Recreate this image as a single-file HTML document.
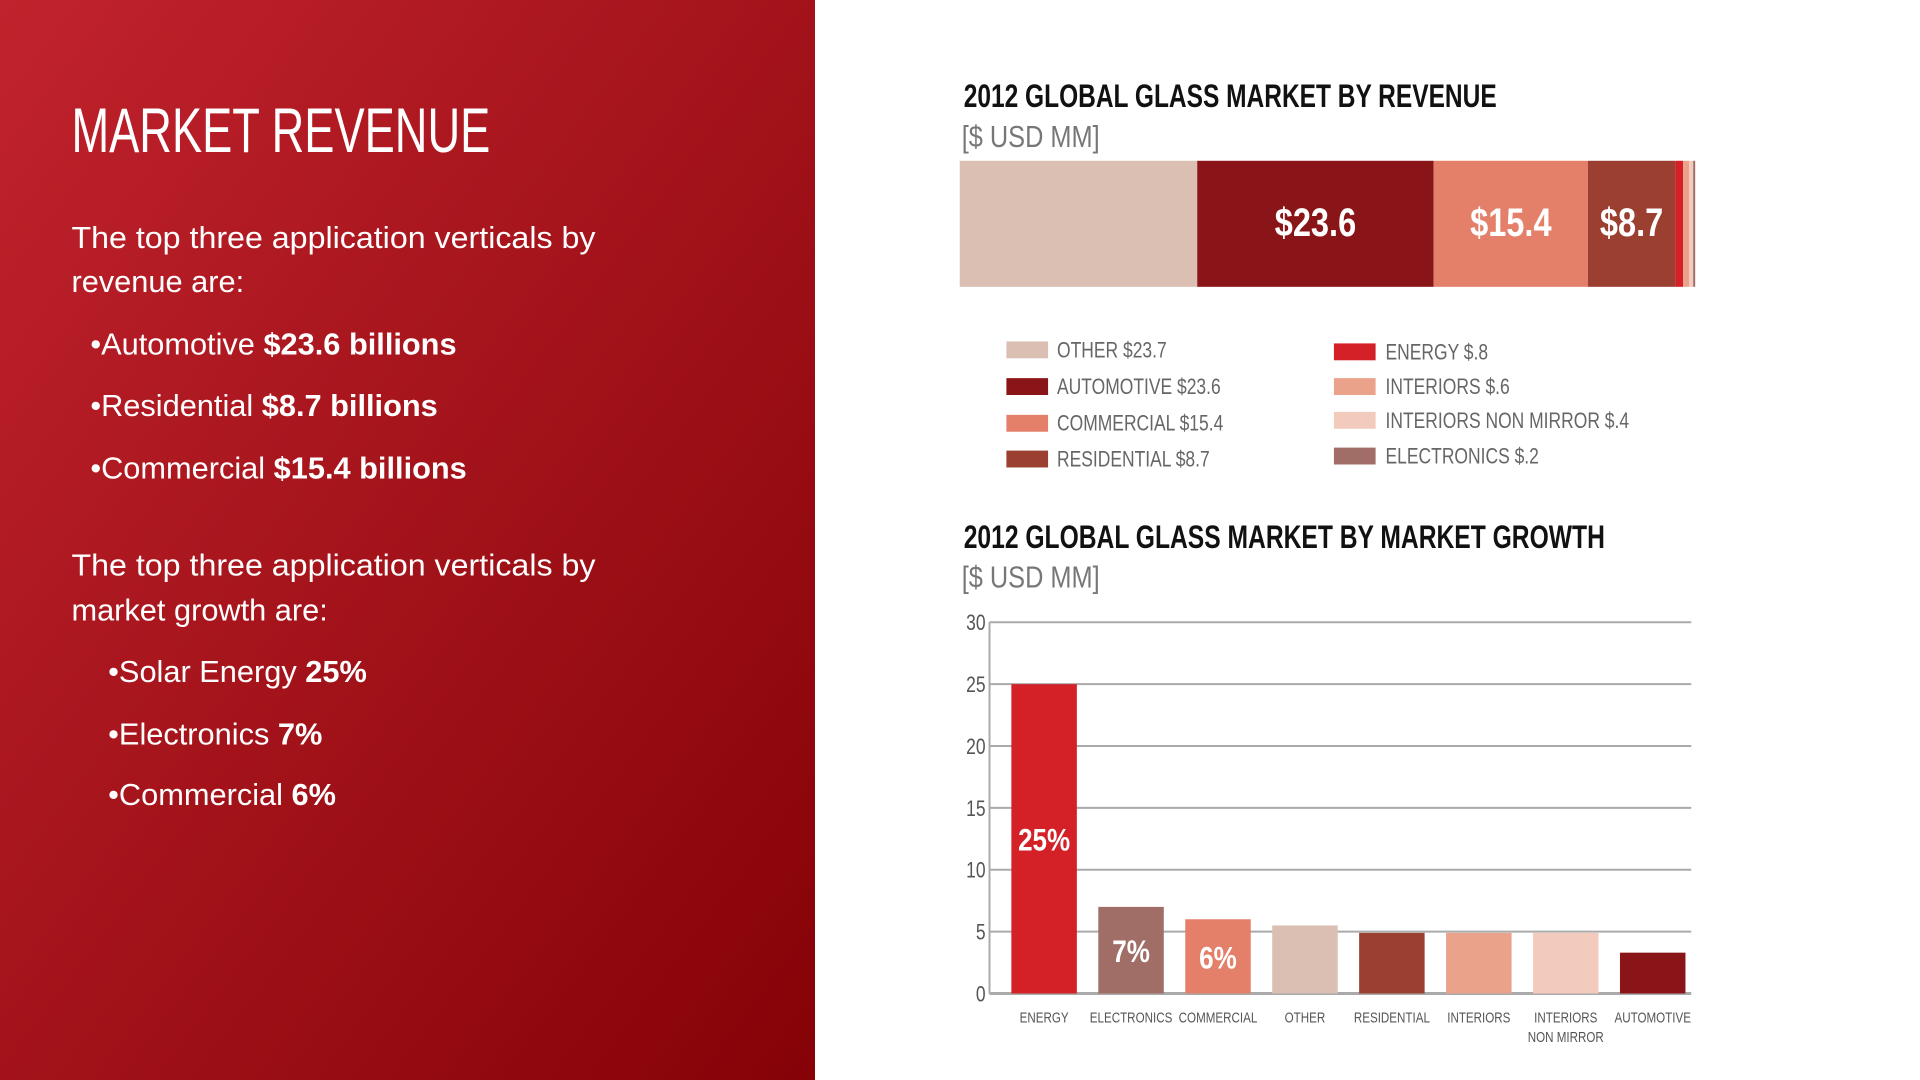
<!DOCTYPE html>
<html><head><meta charset="utf-8"><style>
html,body{margin:0;padding:0;width:1920px;height:1080px;overflow:hidden;background:#fff}
svg{display:block}
.n{font-family:"Liberation Sans Narrow","Liberation Sans",sans-serif}
.s{font-family:"Liberation Sans",sans-serif}
</style></head><body>
<svg id="page" width="1920" height="1080" viewBox="0 0 1920 1080">
<defs><linearGradient id="bg" x1="0" y1="0" x2="1" y2="1"><stop offset="0" stop-color="#c1232d"/><stop offset="1" stop-color="#850207"/></linearGradient></defs>
<rect x="0" y="0" width="815" height="1080" fill="url(#bg)"/>
<g transform="scale(0.9925)">
<g fill="#fff" class="s" font-size="31">
<text x="72" y="153" class="n" font-size="64" textLength="422" lengthAdjust="spacingAndGlyphs">MARKET REVENUE</text>
<text x="72" y="250" textLength="528" lengthAdjust="spacingAndGlyphs">The top three application verticals by</text>
<text x="72" y="294">revenue are:</text>
<text x="91" y="357">•Automotive <tspan font-weight="bold">$23.6 billions</tspan></text>
<text x="91" y="419">•Residential <tspan font-weight="bold">$8.7 billions</tspan></text>
<text x="91" y="482">•Commercial <tspan font-weight="bold">$15.4 billions</tspan></text>
<text x="72" y="580" textLength="528" lengthAdjust="spacingAndGlyphs">The top three application verticals by</text>
<text x="72" y="625">market growth are:</text>
<text x="109" y="687">•Solar Energy <tspan font-weight="bold">25%</tspan></text>
<text x="109" y="750">•Electronics <tspan font-weight="bold">7%</tspan></text>
<text x="109" y="811">•Commercial <tspan font-weight="bold">6%</tspan></text>
</g>
<text x="971" y="108" class="n" font-size="33" font-weight="bold" fill="#111" textLength="537" lengthAdjust="spacingAndGlyphs">2012 GLOBAL GLASS MARKET BY REVENUE</text>
<text x="969" y="148" class="n" font-size="31" fill="#777" textLength="139" lengthAdjust="spacingAndGlyphs">[$ USD MM]</text>
<text x="971" y="552" class="n" font-size="33" font-weight="bold" fill="#111" textLength="646" lengthAdjust="spacingAndGlyphs">2012 GLOBAL GLASS MARKET BY MARKET GROWTH</text>
<text x="969" y="592" class="n" font-size="31" fill="#777" textLength="139" lengthAdjust="spacingAndGlyphs">[$ USD MM]</text>
<g id="stack"></g><g id="legend"></g><g id="bars"></g>
</g>
</svg>
<script>
const revCats=["OTHER","AUTOMOTIVE","COMMERCIAL","RESIDENTIAL","ENERGY","INTERIORS","INTERIORS NON MIRROR","ELECTRONICS"];
const revVals=[23.7,23.6,15.4,8.7,0.8,0.6,0.4,0.2];
const revLabels=["$23.7","$23.6","$15.4","$8.7","$.8","$.6","$.4","$.2"];
const revShown=[false,true,true,true,false,false,false,false];
const revColors=["#dcbfb3","#8a1519","#e4806a","#9b3f30","#d42027","#eaa28a","#f2cbbd","#a06e66"];
const growCats=[["ENERGY"],["ELECTRONICS"],["COMMERCIAL"],["OTHER"],["RESIDENTIAL"],["INTERIORS"],["INTERIORS","NON MIRROR"],["AUTOMOTIVE"]];
const growVals=[25,7,6,5.5,4.9,4.9,4.9,3.3];
const growColors=["#d42027","#a06e66","#e4806a","#dcbfb3","#9b3f30","#eaa28a","#f2cbbd","#8a1519"];
const growLabels=["25%","7%","6%","","","","",""];
const yTicks=[0,5,10,15,20,25,30];
const NS="http://www.w3.org/2000/svg";
function mk(p,t,a,txt){const e=document.createElementNS(NS,t);for(const k in a)e.setAttribute(k,a[k]);if(txt!==undefined)e.textContent=txt;p.appendChild(e);return e;}
function ctext(p,x,y,sx,a,txt){a.x=0;a.y=0;a.transform='translate('+x+','+y+') scale('+sx+',1)';return mk(p,'text',a,txt);}
// stacked bar
const st=document.getElementById('stack');
const total=revVals.reduce((a,b)=>a+b,0);
const sx0=967,sx1=1708,sy=162,sh=127;
const sX=v=>(v/total)*(sx1-sx0);
let acc=0;
revVals.forEach((v,i)=>{
 const r=mk(st,'rect',{x:sx0+sX(acc),y:sy,width:sX(v),height:sh,fill:revColors[i]});
 
 
 if(revShown[i]){
  const t=ctext(st,sx0+sX(acc+v/2),sy+76,0.82,{'text-anchor':'middle',class:'n','font-size':40,'font-weight':'bold',fill:'#fff'},revLabels[i]);
  
  
 }
 acc+=v;
});
// legend
const lg=document.getElementById('legend');
const lcol=[[1014,1065],[1344,1396]];
const lrows=[[352,389,426,462],[354,389,423,459]];
revCats.forEach((c,i)=>{
 const col=i<4?0:1,row=i%4;
 const y=lrows[col][row];
 const r=mk(lg,'rect',{x:lcol[col][0],y:y-8,width:42,height:17,fill:revColors[i]});
 
 
 const t=ctext(lg,lcol[col][1],y+8,0.8,{class:'n','font-size':22,fill:'#666'},c+' '+revLabels[i]);
 
 
});
// bar chart
const bg=document.getElementById('bars');
const px0=997,px1=1704,py0=1001,py1=627,ymax=30;
const Y=v=>py0-(v/ymax)*(py0-py1);
const step=87.6,bw=66,bx0=1019;
const X=i=>bx0+i*step;
yTicks.forEach(t=>{
 const l=mk(bg,'line',{x1:px0,x2:px1,y1:Y(t),y2:Y(t),stroke:'#aaa','stroke-width':t===0?3:2});
 
 
 const tx=ctext(bg,px0-4,Y(t)+8,0.8,{'text-anchor':'end',class:'n','font-size':22,fill:'#555'},String(t));
 
 
});
const ax=mk(bg,'line',{x1:px0,x2:px0,y1:py1,y2:py0,stroke:'#aaa','stroke-width':2});


growVals.forEach((v,i)=>{
 const r=mk(bg,'rect',{x:X(i),y:Y(v),width:bw,height:py0-Y(v),fill:growColors[i]});
 
 
 growCats[i].forEach((ln,j)=>{
  const t=ctext(bg,X(i)+bw/2,1030+j*20,0.78,{'text-anchor':'middle',class:'n','font-size':15,fill:'#555'},ln);
  
  
 });
 if(growLabels[i]){
  const ly=Y(v)+(py0-Y(v))/2+12;
  const t=ctext(bg,X(i)+bw/2,ly,0.82,{'text-anchor':'middle',class:'n','font-size':32,'font-weight':'bold',fill:'#fff'},growLabels[i]);
  
  
 }
});
</script>
</body></html>
